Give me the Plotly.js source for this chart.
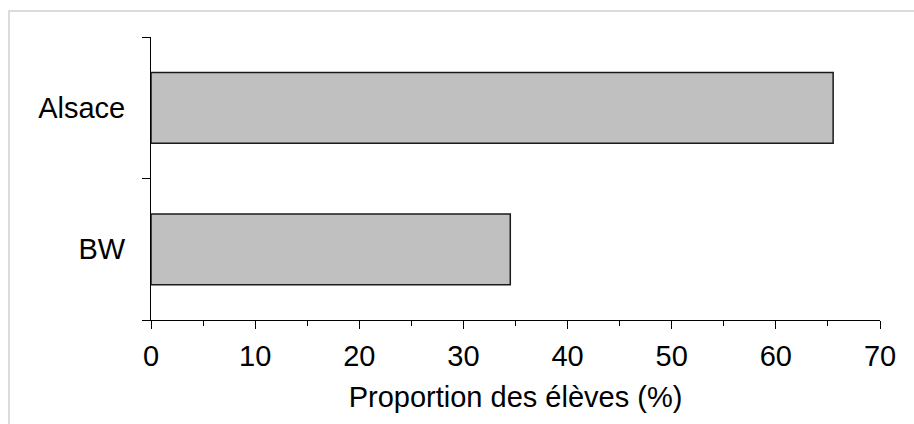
<!DOCTYPE html>
<html>
<head>
<meta charset="utf-8">
<script src="https://cdn.plot.ly/plotly-3.0.1.min.js"></script>
<style>
  html, body { margin: 0; padding: 0; background: #fff; }
  #chart { width: 914px; height: 424px; }
</style>
</head>
<body>
<div id="chart"></div>
<script>
const categories = ['Alsace', 'BW'];
const values = [65.5, 34.5];
const categoryOrder = ['BW', 'Alsace'];
const xTitle = 'Proportion des élèves (%)';

const FONT = 'Liberation Sans, Arial, sans-serif';

const trace = {
  type: 'bar',
  orientation: 'h',
  y: categories,
  x: values,
  width: 0.5,
  marker: { color: '#c0c0c0', line: { color: '#1a1a1a', width: 1.5 } },
  hoverinfo: 'x+y'
};

const layout = {
  width: 914,
  height: 424,
  margin: { l: 151, r: 34, t: 37, b: 104 },
  paper_bgcolor: '#ffffff',
  plot_bgcolor: '#ffffff',
  font: { family: FONT, size: 29, color: '#000' },
  showlegend: false,
  xaxis: {
    range: [0, 70],
    dtick: 10,
    tick0: 0,
    ticks: 'outside',
    ticklen: 8,
    tickwidth: 1,
    tickcolor: '#000',
    showline: true,
    linecolor: '#000',
    linewidth: 1,
    showgrid: false,
    zeroline: false,
    ticklabelstandoff: 2,
    tickfont: { family: FONT, size: 29, color: '#000' },
    minor: { dtick: 5, ticks: 'outside', ticklen: 5, tickcolor: '#000', tickwidth: 1, showgrid: false },
    title: { text: xTitle, font: { family: FONT, size: 29, color: '#000' }, standoff: 15 },
    fixedrange: true
  },
  yaxis: {
    type: 'category',
    categoryorder: 'array',
    categoryarray: categoryOrder,
    range: [-0.5, 1.5],
    tickson: 'boundaries',
    ticks: 'outside',
    ticklen: 8,
    tickwidth: 1,
    tickcolor: '#000',
    showline: true,
    linecolor: '#000',
    linewidth: 1,
    showgrid: false,
    zeroline: false,
    ticklabelstandoff: 19,
    tickfont: { family: FONT, size: 29, color: '#000' },
    fixedrange: true
  },
  shapes: [{
    type: 'rect', xref: 'paper', yref: 'paper',
    x0: (9 - 151) / 729, x1: 2,
    y0: -2, y1: (320 - 11) / 283,
    line: { color: '#dcdcdc', width: 2 },
    fillcolor: 'rgba(0,0,0,0)',
    layer: 'below'
  }]
};

Plotly.newPlot('chart', [trace], layout, { displayModeBar: false, staticPlot: true });
</script>
</body>
</html>
